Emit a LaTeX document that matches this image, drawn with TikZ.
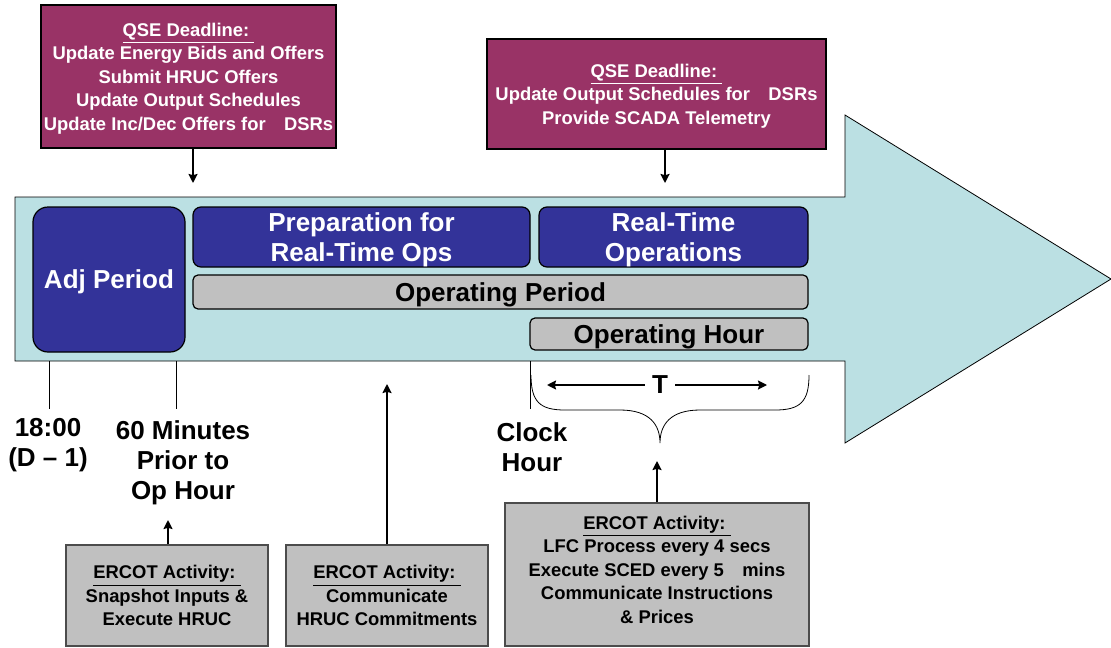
\documentclass[tikz,border=0pt]{standalone}
\usepackage{fontspec}
\usetikzlibrary{arrows.meta}
\setmainfont{Liberation Sans}
\definecolor{qse}{HTML}{993366}
\definecolor{ops}{HTML}{333399}
\definecolor{band}{HTML}{BBE0E3}
\definecolor{act}{HTML}{C0C0C0}
\begin{document}
\begin{tikzpicture}[
                                x = 0.5pt, y = -0.5pt,
                                > = {Stealth[length = 4.5pt, width = 4.5pt, inset = 0.6pt]},
                                semithick
                                ]

                                \tikzstyle{deadline}=[
                                        draw = black,
                                        fill = qse,
                                        text = white,
                                        align = center,
                                        inner sep = 0pt,
                                        text depth = 0pt,
                                        font = \bfseries\fontsize{9.2}{11.75}\selectfont
                                ]
                                \tikzstyle{period}=[
                                        draw = black,
                                        fill = ops,
                                        text = white,
                                        rounded corners = 4pt,
                                        align = center,
                                        inner sep = 0pt,
                                        text depth = 0pt,
                                        font = \bfseries\fontsize{13}{15}\selectfont
                                ]
                                \tikzstyle{span}=[
                                        draw = black,
                                        fill = act,
                                        rounded corners = 2.5pt,
                                        inner sep = 0pt,
                                        text depth = 0pt,
                                        font = \bfseries\fontsize{13}{15}\selectfont
                                ]
                                \tikzstyle{activity}=[
                                        draw = black!70,
                                        fill = act,
                                        align = center,
                                        inner sep = 0pt,
                                        font = \bfseries\fontsize{9.2}{11.75}\selectfont
                                ]
                                \tikzstyle{timelabel}=[
                                        align = center,
                                        font = \bfseries\fontsize{13}{15}\selectfont
                                ]
                                \tikzstyle{push}=[->, line width = 1.1pt]

                                \useasboundingbox (0,0) rectangle (1111,647);

                                % timeline band
                                \draw[fill = band, thin] (15,197) -- (845,197) -- (845,115) -- (1111,279)
                                        -- (845,443) -- (845,361) -- (15,361) -- cycle;

                                \node[deadline, minimum width = 147.5pt, minimum height = 71.5pt] (q1) at (188.5,76.5)
                                        {\underline{QSE Deadline:\ }\\Update Energy Bids and Offers\\Submit HRUC Offers\\Update Output Schedules\\Update Inc/Dec Offers for\quad DSRs};
                                \node[deadline, minimum width = 169.5pt, minimum height = 55pt] (q2) at (656.5,94)
                                        {\underline{QSE Deadline:\ }\\Update Output Schedules for\quad DSRs\\Provide SCADA Telemetry};

                                \node[period, rounded corners = 7.5pt, minimum width = 76pt, minimum height = 72.5pt] (adj) at (109,279.5) {Adj Period};
                                \node[period, minimum width = 168.5pt, minimum height = 30pt] (prep) at (361.5,237) {Preparation for\\Real-Time Ops};
                                \node[period, minimum width = 134.5pt, minimum height = 30pt] (rt) at (673.5,237) {Real-Time\\Operations};
                                \node[span, minimum width = 307.5pt, minimum height = 17pt] (opp) at (500.5,292) {Operating Period};
                                \node[span, minimum width = 139pt, minimum height = 16pt] (oph) at (669,334) {Operating Hour};

                                \node[timelabel] (d1) at (48,445) {18:00\\(D – 1)};
                                \node[timelabel] (d2) at (183,463) {60 Minutes\\Prior to\\Op Hour};
                                \node[timelabel] (d3) at (532,447) {Clock\\Hour};
                                \node[timelabel] (T) at (660,385) {T};

                                \node[activity, minimum width = 101pt, minimum height = 50.5pt] (a1) at (167,595.5)
                                        {\underline{ERCOT Activity:\ }\\Snapshot Inputs \&\\Execute HRUC};
                                \node[activity, minimum width = 101pt, minimum height = 50.5pt] (a2) at (387,595.5)
                                        {\underline{ERCOT Activity:\ }\\Communicate\\HRUC Commitments};
                                \node[activity, text depth = 5pt, minimum width = 152pt, minimum height = 71.5pt] (a3) at (657,574.5)
                                        {\underline{ERCOT Activity:\ }\\LFC Process every 4 secs\\Execute SCED every 5\quad mins\\Communicate Instructions\\\& Prices};

                                \coordinate (t1) at (193,183);
                                \coordinate (t2) at (665,183);
                                \coordinate (u1) at (168,520);
                                \coordinate (u2) at (387,384);
                                \coordinate (u3) at (657,461);
                                \coordinate (tl) at (547,385);
                                \coordinate (tr) at (767,385);
                                \coordinate (k1) at (49,361);
                                \coordinate (k2) at (176,361);
                                \coordinate (k3) at (530,361);

                                \draw[push] (t1 |- q1.south) -- (t1);
                                \draw[push] (t2 |- q2.south) -- (t2);
                                \draw[push] (u1 |- a1.north) -- (u1);
                                \draw[push] (u2 |- a2.north) -- (u2);
                                \draw[push] (u3 |- a3.north) -- (u3);
                                \draw[->, line width = 0.9pt] (T) -- (tl);
                                \draw[->, line width = 0.9pt] (T) -- (tr);

                                \draw[thin] (k1) -- ++(0,48);
                                \draw[thin] (k2) -- ++(0,48);
                                \draw[thin] (k3) -- ++(0,48);

                                % brace under the operating hour
                                \draw[thin] (531,375) .. controls (531,402) and (540,410) .. (565,410) -- (620,410)
                                        .. controls (650,410) and (660,425) .. (660,443)
                                        .. controls (660,425) and (670,410) .. (700,410) -- (775,410)
                                        .. controls (800,410) and (809,402) .. (809,375);
                       \end{tikzpicture}
\end{document}
